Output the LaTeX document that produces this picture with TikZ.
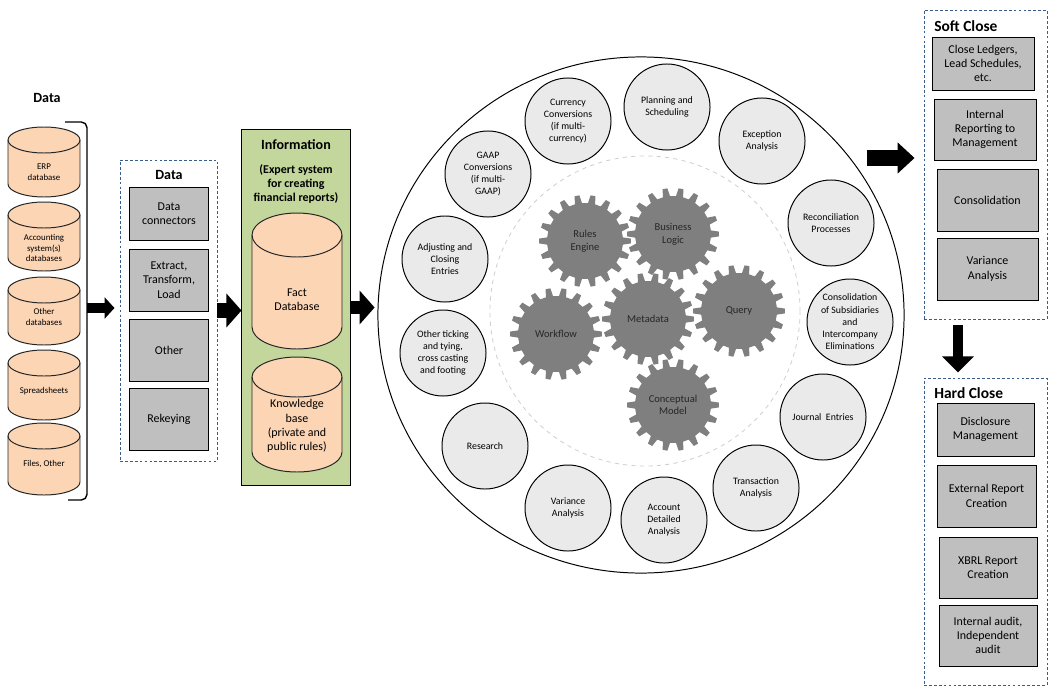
\documentclass[tikz,border=0pt]{standalone}
\usepackage{fontspec}
\setmainfont{Carlito}
\usetikzlibrary{arrows.meta,shapes.geometric}

\definecolor{drumfill}{HTML}{FCD5B5}
\definecolor{infogreen}{HTML}{C3D69B}
\definecolor{boxgray}{HTML}{BFBFBF}
\definecolor{dashblue}{HTML}{385D8A}
\definecolor{taskfill}{HTML}{EAEAEA}
\definecolor{gearfill}{HTML}{7F7F7F}
\definecolor{geartext}{HTML}{262626}
\definecolor{coreline}{HTML}{CFCFCF}

\begin{document}
\begin{tikzpicture}[x=0.025cm, y=-0.025cm,
  title/.style={font=\bfseries\fontsize{10}{12}\selectfont, inner sep=0pt},
  graybox/.style={draw=black, fill=boxgray, line width=0.7pt, align=center, inner sep=1pt, font=\fontsize{8.5}{10.2}\selectfont},
  groupbox/.style={draw=dashblue, dash pattern=on 2pt off 1.5pt, line width=0.6pt, inner sep=0pt},
  drum/.style={draw=black!85, fill=drumfill, line width=0.7pt},
  drumtext/.style={align=center, font=\fontsize{6.3}{7.7}\selectfont},
  bigtext/.style={align=center, font=\fontsize{8.5}{10.2}\selectfont},
  task/.style={circle, draw=black, fill=taskfill, line width=0.7pt, minimum size=2.15cm, inner sep=0pt, align=center, font=\fontsize{7}{8.7}\selectfont},
  gearlabel/.style={align=center, text=geartext, font=\fontsize{7.5}{9}\selectfont}]

\useasboundingbox (0,0) rectangle (1052,691);

% source data
\node[title] (srctitle) at (47,98) {Data};
\foreach \i/\yt/\yb/\ty/\txt in {1/127/197/172/{ERP\\database}, 2/202/271/248/{Accounting\\system(s)\\databases}, 3/277/345/317/{Other\\databases}, 4/350/420/391/{Spreadsheets}, 5/423/495/464/{Files, Other}}{
  \filldraw[drum] (8,\yt+13) -- (8,\yb-13) arc[start angle=180, end angle=0, x radius=36, y radius=13] -- (80,\yt+13) arc[start angle=0, end angle=-180, x radius=36, y radius=13] -- cycle;
  \draw[drum, fill=none] (8,\yt+13) arc[start angle=180, end angle=0, x radius=36, y radius=13];
  \node[drumtext] (db\i) at (44,\ty) {\txt};
}
\draw[line width=1pt, rounded corners=4pt] (65,122) -- (87,122) -- (87,500) -- (68,500);
\coordinate (brk) at (87,308);

% data layer
\node[groupbox, minimum width=2.425cm, minimum height=7.525cm] (datagrp) at (168.5,310.5) {};
\node[title] (datatitle) at (169,175) {Data};
\node[graybox, minimum width=1.95cm, minimum height=1.325cm] (conn) at (169,213.5) {Data\\connectors};
\node[graybox, minimum width=1.95cm, minimum height=1.55cm] (etl) at (169,280) {Extract,\\Transform,\\Load};
\node[graybox, minimum width=1.95cm, minimum height=1.55cm] (other) at (169,350) {Other};
\node[graybox, minimum width=1.95cm, minimum height=1.55cm] (rekey) at (169,419) {Rekeying};

% information
\node[draw=black, fill=infogreen, line width=0.7pt, minimum width=2.7cm, minimum height=8.875cm] (info) at (296,307.5) {};
\node[title] (infotitle) at (296,145) {Information};
\node[align=center, font=\bfseries\fontsize{8.5}{10.2}\selectfont] (infosub) at (296,184) {(Expert system\\for creating\\financial reports)};
\foreach \i/\yt/\yb/\ry in {1/213/349/22, 2/357/472/20}{
  \filldraw[drum] (252,\yt+\ry) -- (252,\yb-\ry) arc[start angle=180, end angle=0, x radius=45, y radius=\ry] -- (342,\yt+\ry) arc[start angle=0, end angle=-180, x radius=45, y radius=\ry] -- cycle;
  \draw[drum, fill=none] (252,\yt+\ry) arc[start angle=180, end angle=0, x radius=45, y radius=\ry];
}
\node[bigtext] (fact) at (297,300) {Fact\\Database};
\node[bigtext] (know) at (297,426) {Knowledge\\base\\(private and\\public rules)};

% process wheel
\node[ellipse, draw=black, line width=0.7pt, minimum width=13.15cm, minimum height=12.9cm, inner sep=0pt] (ring) at (641,315) {};
\node[circle, draw=coreline, dashed, line width=0.6pt, minimum size=7.75cm] (core) at (645,311) {};

\node[task] (fx) at (568,121) {Currency\\Conversions\\(if multi-\\currency)};
\node[task] (plan) at (667,107) {Planning and\\Scheduling};
\node[task] (excep) at (762,141) {Exception\\Analysis};
\node[task] (recon) at (831,223) {Reconciliation\\Processes};
\node[task] (consol) at (850,322) {Consolidation\\of Subsidiaries\\and\\Intercompany\\Eliminations};
\node[task] (journal) at (823,417) {Journal\ \ Entries};
\node[task] (trans) at (756,488) {Transaction\\Analysis};
\node[task] (acct) at (664,520) {Account\\Detailed\\Analysis};
\node[task] (var) at (568,508) {Variance\\Analysis};
\node[task] (research) at (485,446) {Research};
\node[task] (tick) at (443,353) {Other ticking\\and tying,\\cross casting\\and footing};
\node[task] (adjust) at (445,259) {Adjusting and\\Closing\\Entries};
\node[task] (gaap) at (488,174) {GAAP\\Conversions\\(if multi-\\GAAP)};

% gears
\foreach \gx/\gy/\gn/\gt in {585/241/rules/{Rules\\Engine}, 673/234/logic/{Business\\Logic}, 648/319/meta/{Metadata}, 739/311/query/{Query}, 556/334/flow/{Workflow}, 673/405/concept/{Conceptual\\Model}}{
  \fill[gearfill, shift={(\gx,\gy)}] (-5.5:38) \foreach \t in {0,20,...,340}{ -- (\t-5.5:38) -- (\t-3:46) -- (\t+3:46) -- (\t+5.5:38)} -- cycle;
  \node[gearlabel] (\gn) at (\gx,\gy) {\gt};
}

% soft close
\node[groupbox, minimum width=3.075cm, minimum height=7.725cm] (soft) at (985.5,164.5) {};
\node[title, anchor=west, font=\bfseries\fontsize{11}{13}\selectfont] (softtitle) at (934,26) {Soft Close};
\node[graybox, minimum width=2.55cm, minimum height=1.325cm] (ledger) at (983,63.5) {Close Ledgers,\\Lead Schedules,\\etc.};
\node[graybox, minimum width=2.55cm, minimum height=1.525cm] (mgmt) at (985,129.5) {Internal\\Reporting to\\Management};
\node[graybox, minimum width=2.525cm, minimum height=1.55cm] (consolid) at (987.5,200) {Consolidation};
\node[graybox, minimum width=2.525cm, minimum height=1.55cm] (variance) at (987.5,269) {Variance\\Analysis};

% hard close
\node[groupbox, minimum width=3.075cm, minimum height=7.675cm] (hard) at (985.5,531.5) {};
\node[title, anchor=west, font=\bfseries\fontsize{11}{13}\selectfont] (hardtitle) at (934,393) {Hard Close};
\node[graybox, minimum width=2.425cm, minimum height=1.325cm] (disc) at (985.5,429.5) {Disclosure\\Management};
\node[graybox, minimum width=2.475cm, minimum height=1.55cm] (ext) at (986.5,496) {External Report\\Creation};
\node[graybox, minimum width=2.45cm, minimum height=1.525cm] (xbrl) at (988,567.5) {XBRL Report\\Creation};
\node[graybox, minimum width=2.45cm, minimum height=1.525cm] (audit) at (988,635.5) {Internal audit,\\Independent\\audit};

% block arrows
\coordinate (softin) at (867,158);
\coordinate (softout) at (958,325);
\draw[line width=7.1pt, -{Triangle[length=7.1pt, width=15pt]}, shorten >=3.6pt] (brk) -- (datagrp.west |- brk);
\draw[line width=10pt, -{Triangle[length=10.7pt, width=23.5pt]}] (datagrp.east) -- (datagrp.east -| info.west);
\draw[line width=9.2pt, -{Triangle[length=10.7pt, width=23.5pt]}, shorten >=2pt] (info.east) -- (info.east -| ring.west);
\draw[line width=10.7pt, -{Triangle[length=12pt, width=21.3pt]}, shorten >=6.4pt] (softin) -- (softin -| soft.west);
\draw[line width=7.8pt, -{Triangle[length=11.4pt, width=22pt]}, shorten >=3.6pt] (softout) -- (softout |- hard.north);
\end{tikzpicture}
\end{document}
